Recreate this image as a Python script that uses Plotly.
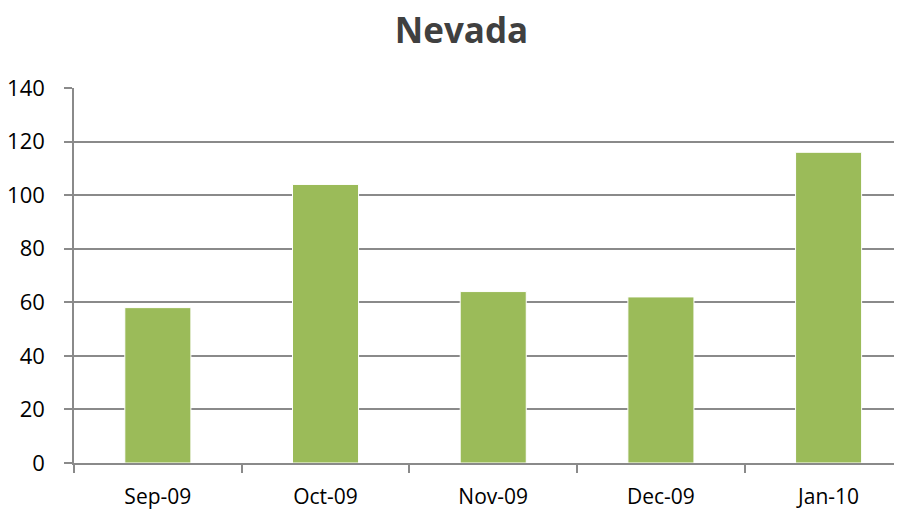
import plotly.graph_objects as go

months = ["Sep-09", "Oct-09", "Nov-09", "Dec-09", "Jan-10"]
values = [58, 104, 64, 62, 116]
y_ticks = [0, 20, 40, 60, 80, 100, 120, 140]
title_text = "Nevada"

W, H = 886, 506  # page body has an 8px default margin on every side

fig = go.Figure()
fig.add_trace(go.Bar(
    x=months, y=values,
    marker=dict(color="#9BBB59", line=dict(color="white", width=1)),
    width=0.394,
))

fig.update_layout(
    width=W, height=H,
    paper_bgcolor="white", plot_bgcolor="white",
    margin=dict(l=66, r=0, t=80, b=51),
    showlegend=False,
    title=dict(text="<b>" + title_text + "</b>", x=453.5 / W, xanchor="center", xref="container",
               y=1 - 23 / H, yanchor="middle", yref="container",
               font=dict(family="Open Sans", size=35, color="#404040")),
    font=dict(family="Open Sans", size=22, color="black"),
)
fig.update_xaxes(
    type="category", range=[-0.5, 4.39], automargin=False,
    showline=True, linecolor="#8a8a8a", linewidth=1.5,
    ticks="outside", ticklen=8, tickcolor="#8a8a8a", tickwidth=1.5, tickson="boundaries",
    showgrid=False, ticklabelstandoff=14, fixedrange=True,
    tickfont=dict(size=21),
)
fig.update_yaxes(
    range=[0, 140], tickvals=y_ticks, automargin=False,
    showline=True, linecolor="#8a8a8a", linewidth=1.5,
    showgrid=True, gridcolor="#8a8a8a", gridwidth=1.5,
    ticks="outside", ticklen=8, tickcolor="#8a8a8a", tickwidth=1.5,
    ticklabelstandoff=15, zeroline=False,
)

fig.write_html("out.html")
